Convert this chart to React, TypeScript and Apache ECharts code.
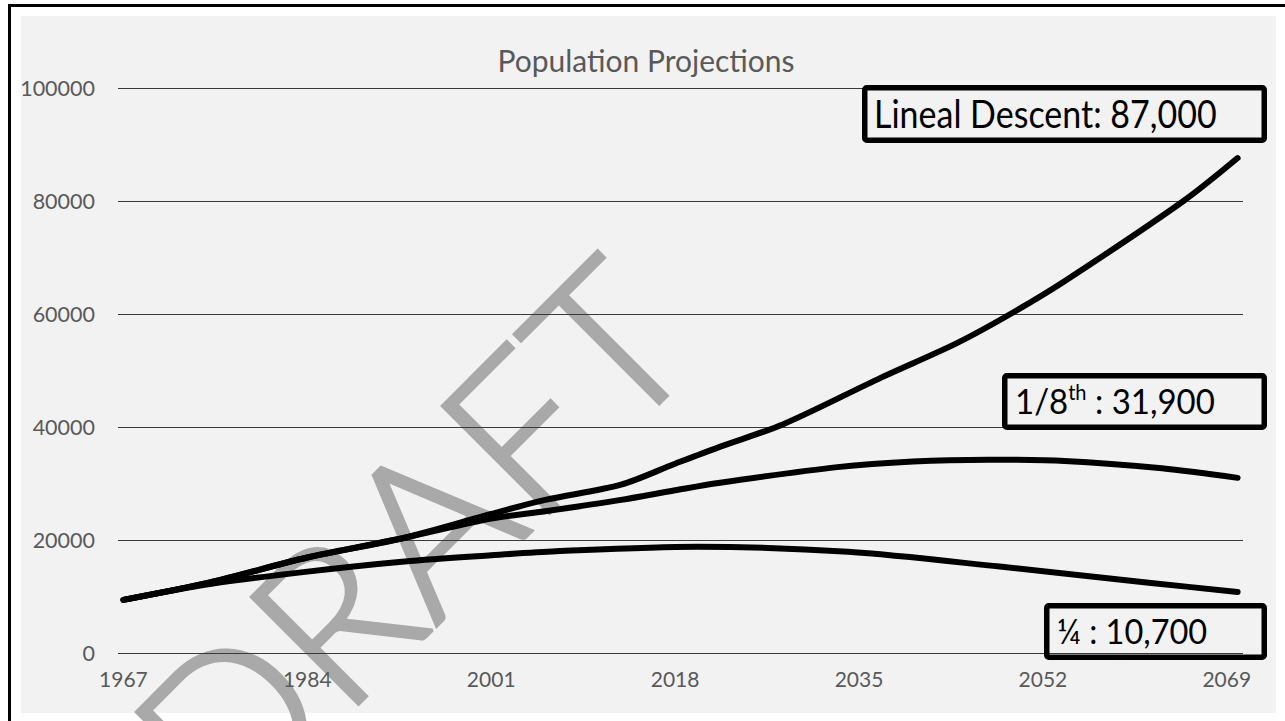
import React, { useEffect, useRef } from "react";
import * as echarts from "echarts";

const TITLE = "Population Projections";
const X_TICKS = [1967, 1984, 2001, 2018, 2035, 2052, 2069];

const linealYears = [1967, 1975, 1984, 1993, 2001, 2006, 2013, 2018, 2022, 2028, 2037, 2044, 2049, 2054, 2065, 2070];
const linealValues = [9400, 12500, 16900, 20400, 24600, 27100, 29800, 33500, 36400, 40500, 48700, 54800, 60000, 65800, 80000, 87600];

const eighthYears = [1967, 1975, 1984, 1993, 2001, 2006, 2013, 2018, 2022, 2033, 2040, 2047, 2054, 2063, 2070];
const eighthValues = [9400, 12500, 16900, 20400, 23800, 25100, 27100, 28800, 30100, 32900, 33900, 34200, 34000, 32700, 31000];

const quarterYears = [1967, 1975, 1984, 1993, 2001, 2007, 2020, 2034, 2048, 2062, 2070];
const quarterValues = [9400, 12200, 14400, 16200, 17300, 18000, 18800, 17900, 15300, 12400, 10800];

const LABEL_LINEAL = "Lineal Descent: 87,000";
const LABEL_EIGHTH_MAIN = "1/8";
const LABEL_EIGHTH_SUP = "th";
const LABEL_EIGHTH_REST = " : 31,900";
const LABEL_QUARTER = "¼ : 10,700";
const WATERMARK = "DRAFT";

const FONT = "Lato, 'Open Sans', sans-serif";

function zip(xs: number[], ys: number[]) {
  return xs.map((x, i) => [x, ys[i]]);
}

export default function App() {
  const ref = useRef<HTMLDivElement>(null);
  useEffect(() => {
    if (!ref.current) return;
    const chart = echarts.init(ref.current, null, { renderer: "svg" });
    const lineSeries = (name: string, data: number[][]) => ({
      name,
      type: "line",
      data,
      smooth: 0.3,
      showSymbol: false,
      symbol: "none",
      z: 3,
      lineStyle: { color: "#000", width: 6, cap: "round", join: "round" },
    });
    const box = (x: number, y: number, w: number, h: number) => ({
      type: "rect",
      z: 10,
      shape: { x, y, width: w, height: h, r: 2 },
      style: { fill: "none", stroke: "#000", lineWidth: 5.5 },
    });
    chart.setOption({
      animation: false,
      backgroundColor: "#ffffff",
      grid: { left: 118, top: 88, width: 1125, height: 565 },
      xAxis: {
        type: "value",
        min: 1966.5,
        max: 2070.5,
        axisLine: { show: false },
        axisTick: { show: false },
        splitLine: { show: false },
        axisLabel: {
          customValues: X_TICKS,
          formatter: (v: number) => String(v),
          fontFamily: FONT,
          fontSize: 21,
          color: "#595959",
          margin: 15,
        },
      },
      yAxis: {
        type: "value",
        min: 0,
        max: 100000,
        interval: 20000,
        axisLine: { show: false },
        axisTick: { show: false },
        splitLine: { lineStyle: { color: "#3a3a3a", width: 1 } },
        axisLabel: {
          formatter: (v: number) => String(v),
          fontFamily: FONT,
          fontSize: 21.5,
          color: "#595959",
          margin: 23,
        },
      },
      series: [
        lineSeries("Lineal Descent", zip(linealYears, linealValues)),
        lineSeries("1/8th", zip(eighthYears, eighthValues)),
        lineSeries("1/4", zip(quarterYears, quarterValues)),
      ],
      graphic: [
        { type: "rect", z: -10, shape: { x: 8, y: 4, width: 3, height: 717 }, style: { fill: "#000" } },
        { type: "rect", z: -10, shape: { x: 8, y: 4, width: 1277, height: 3 }, style: { fill: "#000" } },
        { type: "rect", z: -10, shape: { x: 21, y: 16, width: 1255, height: 697 }, style: { fill: "#f2f2f2" } },
        {
          type: "text",
          z: -5,
          x: 409,
          y: 537,
          rotation: Math.PI / 4,
          style: {
            text: WATERMARK,
            fontFamily: FONT,
            fontSize: 214,
            fontWeight: 300,
            fill: "#a9a9a9",
            stroke: "#a9a9a9",
            lineWidth: 3.5,
            textAlign: "center",
            textVerticalAlign: "middle",
          },
        },
        {
          type: "text",
          z: 10,
          x: 646,
          y: 60,
          style: {
            text: TITLE,
            fontFamily: FONT,
            fontSize: 30,
            fill: "#595959",
            textAlign: "center",
            textVerticalAlign: "middle",
          },
        },
        box(864.75, 87.75, 399.5, 52.5),
        box(1004.75, 375.75, 259.5, 51.5),
        box(1046.75, 605.75, 217.5, 51.5),
        {
          type: "text",
          z: 10,
          x: 874,
          y: 113,
          scaleY: 1.12,
          style: {
            text: LABEL_LINEAL,
            fontFamily: FONT,
            fontSize: 34,
            fill: "#000",
            textAlign: "left",
            textVerticalAlign: "middle",
          },
        },
        {
          type: "text",
          z: 10,
          x: 1015,
          y: 401,
          scaleY: 1.05,
          style: {
            text: `{n|${LABEL_EIGHTH_MAIN}}{s|${LABEL_EIGHTH_SUP}}{n|${LABEL_EIGHTH_REST}}`,
            textAlign: "left",
            textVerticalAlign: "middle",
            rich: {
              n: { fontFamily: FONT, fontSize: 33, fill: "#000", lineHeight: 38 },
              s: { fontFamily: FONT, fontSize: 20, fill: "#000", lineHeight: 20, verticalAlign: "top" },
            },
          },
        },
        {
          type: "text",
          z: 10,
          x: 1057,
          y: 631,
          scaleY: 1.05,
          style: {
            text: LABEL_QUARTER,
            fontFamily: FONT,
            fontSize: 32.5,
            fill: "#000",
            textAlign: "left",
            textVerticalAlign: "middle",
          },
        },
      ],
    });
    return () => chart.dispose();
  }, []);
  return (
    <div
      ref={ref}
      style={{ position: "absolute", left: 0, top: 0, width: 1285, height: 721 }}
    />
  );
}
